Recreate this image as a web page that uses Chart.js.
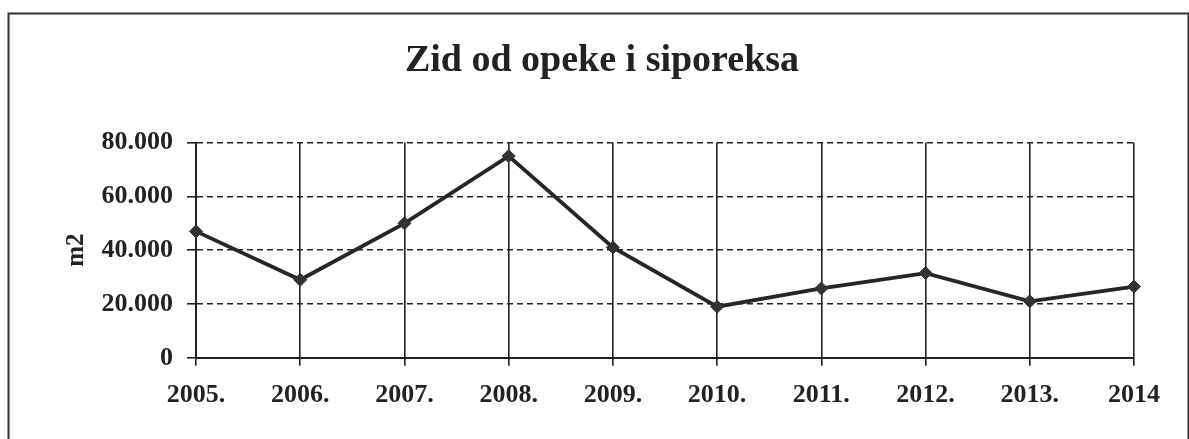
<!DOCTYPE html>
<html>
<head>
<meta charset="utf-8">
<script src="https://cdn.jsdelivr.net/npm/chart.js@4/dist/chart.umd.min.js"></script>
<style>
    html, body { margin: 0; padding: 0; background: #fff; }
    #wrap { width: 1189px; height: 439px; position: relative; }
</style>
</head>
<body>
<div id="wrap"><canvas id="chart"></canvas></div>
<script>
const YEARS = ['2005.', '2006.', '2007.', '2008.', '2009.', '2010.', '2011.', '2012.', '2013.', '2014']
const AREA_M2 = [47000, 29000, 50000, 75000, 41000, 19000, 25800, 31500, 21000, 26500]
const Y_TICKS = [0, 20000, 40000, 60000, 80000]

const SERIF = "'Liberation Serif', 'Times New Roman', serif"
const INK = '#222'

// okvir oko cijelog grafikona
const framePlugin = {
    id: 'frame',
    beforeDraw: chart => {
        const ctx = chart.ctx
        ctx.save()
        ctx.fillStyle = '#fff'
        ctx.fillRect(0, 0, chart.width, chart.height)
        ctx.strokeStyle = '#333'
        ctx.lineWidth = 2
        ctx.strokeRect(8.5, 13.5, 1180, 460)
        ctx.restore()
    }
}

const fmt = v => v === 0 ? '0' : (v / 1000).toFixed(0) + '.000'

const ctx = document.getElementById('chart').getContext('2d')
window.chart = new Chart(ctx, {
    type: 'line',
    data: {
        labels: YEARS,
        datasets: [{
            label: 'm2',
            data: AREA_M2,
            yAxisID: 'y',
            borderColor: '#262626',
            borderWidth: 3.8,
            pointStyle: 'rectRot',
            pointRadius: 6.5,
            pointBackgroundColor: '#333',
            pointBorderColor: '#333',
            pointBorderWidth: 1,
            tension: 0,
            fill: false
        }]
    },
    options: {
        responsive: true,
        maintainAspectRatio: false,
        animation: false,
        layout: { padding: { left: 15, right: 0, top: 0, bottom: 14 } },
        plugins: {
            legend: { display: false },
            tooltip: { enabled: false },
            title: {
                display: true,
                text: 'Zid od opeke i siporeksa',
                color: INK,
                font: { family: SERIF, size: 38, weight: 'bold' },
                padding: { top: 38, bottom: 59 }
            }
        },
        scales: {
            x: {
                offset: false,
                grid: { color: INK, lineWidth: 1.6, tickLength: 8, drawTicks: true },
                border: { display: true, color: INK, width: 2 },
                ticks: {
                    color: INK,
                    padding: 14,
                    maxRotation: 0,
                    autoSkip: false,
                    font: { family: SERIF, size: 26, weight: 'bold' }
                }
            },
            y: {
                min: 0,
                max: 80000,
                afterFit: s => { s.width = 181 },
                afterBuildTicks: s => { s.ticks = Y_TICKS.map(v => ({ value: v })) },
                grid: { color: INK, lineWidth: 1.6, tickLength: 9, tickBorderDash: [] },
                border: { display: true, color: INK, width: 2, dash: [6, 4] },
                ticks: {
                    color: INK,
                    padding: 14,
                    callback: v => fmt(v),
                    font: { family: SERIF, size: 26, weight: 'bold' }
                },
                title: {
                    display: true,
                    text: 'm2',
                    color: INK,
                    padding: { top: 47, bottom: 0 },
                    font: { family: SERIF, size: 25, weight: 'bold' }
                }
            },
            // prazan desni prostor
            yRight: {
                position: 'right',
                display: true,
                afterFit: s => { s.width = 55 },
                grid: { display: false, drawTicks: false },
                border: { display: false },
                ticks: { display: false }
            }
        }
    },
    plugins: [framePlugin]
})
</script>
</body>
</html>
